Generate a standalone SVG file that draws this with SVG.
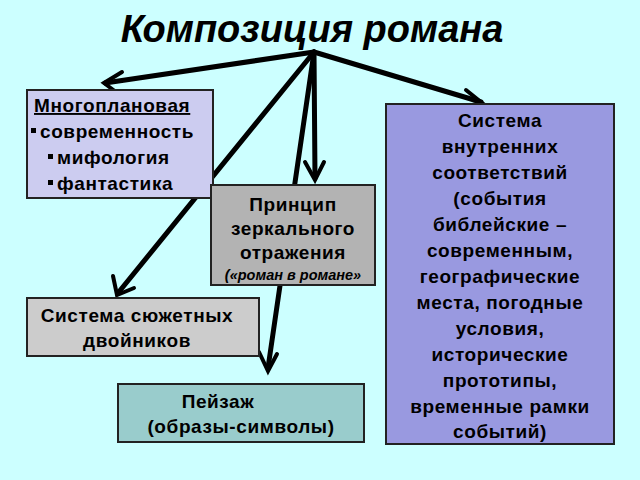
<svg xmlns="http://www.w3.org/2000/svg" width="640" height="480" viewBox="0 0 640 480">
<defs><style>
.t{font-family:"Liberation Sans",Arial,sans-serif;font-weight:bold;fill:#000}
.m{font-size:19px;letter-spacing:0.6px}
.c{stroke:#000;stroke-width:5;fill:none;stroke-linecap:round}
.h{stroke:#000;stroke-width:4;fill:none;stroke-linecap:round;stroke-linejoin:miter}
.b{stroke:#222;stroke-width:2}
</style></defs>
<rect width="640" height="480" fill="#ccffff"/>
<text class="t" x="312" y="42" text-anchor="middle" font-size="38" font-style="italic">Композиция романа</text>
<g id="connectors">
<path class="c" d="M314,52 L105,83"/><path class="h" d="M122,72 L104,83 L120,95"/>
<path class="c" d="M314,52 L481,102"/><path class="h" d="M466,90 L482,103 L463,107"/>
<path class="c" d="M314,52 L315,178"/><path class="h" d="M305,162 L315,180 L324,162"/>
<path class="c" d="M314,52 L118,293"/><path class="h" d="M113,276 L117,295 L134,288"/>
<path class="c" d="M314,52 L268,368"/><path class="h" d="M259,352 L268,371 L277,354"/>
</g>
<g id="n1"><rect class="b" x="27" y="90" width="186" height="108" fill="#ccccf0"/>
<text class="t m" x="34" y="112" text-decoration="underline" letter-spacing="0">Многоплановая</text>
<rect x="31" y="128" width="5" height="5"/><rect x="48" y="154" width="5" height="5"/><rect x="48" y="180" width="5" height="5"/>
<text class="t m" x="40" y="138" letter-spacing="0.2">современность</text>
<text class="t m" x="57" y="164">мифология</text>
<text class="t m" x="57" y="190">фантастика</text></g>
<g id="n2"><rect class="b" x="211" y="185" width="164" height="100" fill="#b3b3b3"/>
<g class="t m" text-anchor="middle"><text x="293" y="211">Принцип</text>
<text x="293" y="235">зеркального</text>
<text x="293" y="259">отражения</text></g>
<text class="t" x="293" y="280" font-size="14.5" font-style="italic" text-anchor="middle">(«роман в романе»</text></g>
<g id="n3"><rect class="b" x="386" y="104" width="228" height="340" fill="#9999e0"/>
<g class="t m" text-anchor="middle">
<text x="500" y="127">Система</text><text x="500" y="153">внутренних</text><text x="500" y="179">соответствий</text><text x="500" y="205">(события</text><text x="500" y="231">библейские –</text><text x="500" y="257">современным,</text><text x="500" y="283">географические</text><text x="500" y="309">места, погодные</text><text x="500" y="335">условия,</text><text x="500" y="361">исторические</text><text x="500" y="387">прототипы,</text><text x="500" y="413">временные рамки</text><text x="500" y="438">событий)</text></g></g>
<g id="n4"><rect class="b" x="27" y="298" width="232" height="58" fill="#cccccc"/>
<text class="t m" x="137" y="322" text-anchor="middle">Система сюжетных</text>
<text class="t m" x="137" y="347" text-anchor="middle">двойников</text></g>
<g id="n5"><rect class="b" x="118" y="384" width="246" height="58" fill="#99cccc"/>
<text class="t m" x="218" y="408" text-anchor="middle">Пейзаж</text>
<text class="t m" x="241" y="433" text-anchor="middle">(образы-символы)</text></g>
</svg>
